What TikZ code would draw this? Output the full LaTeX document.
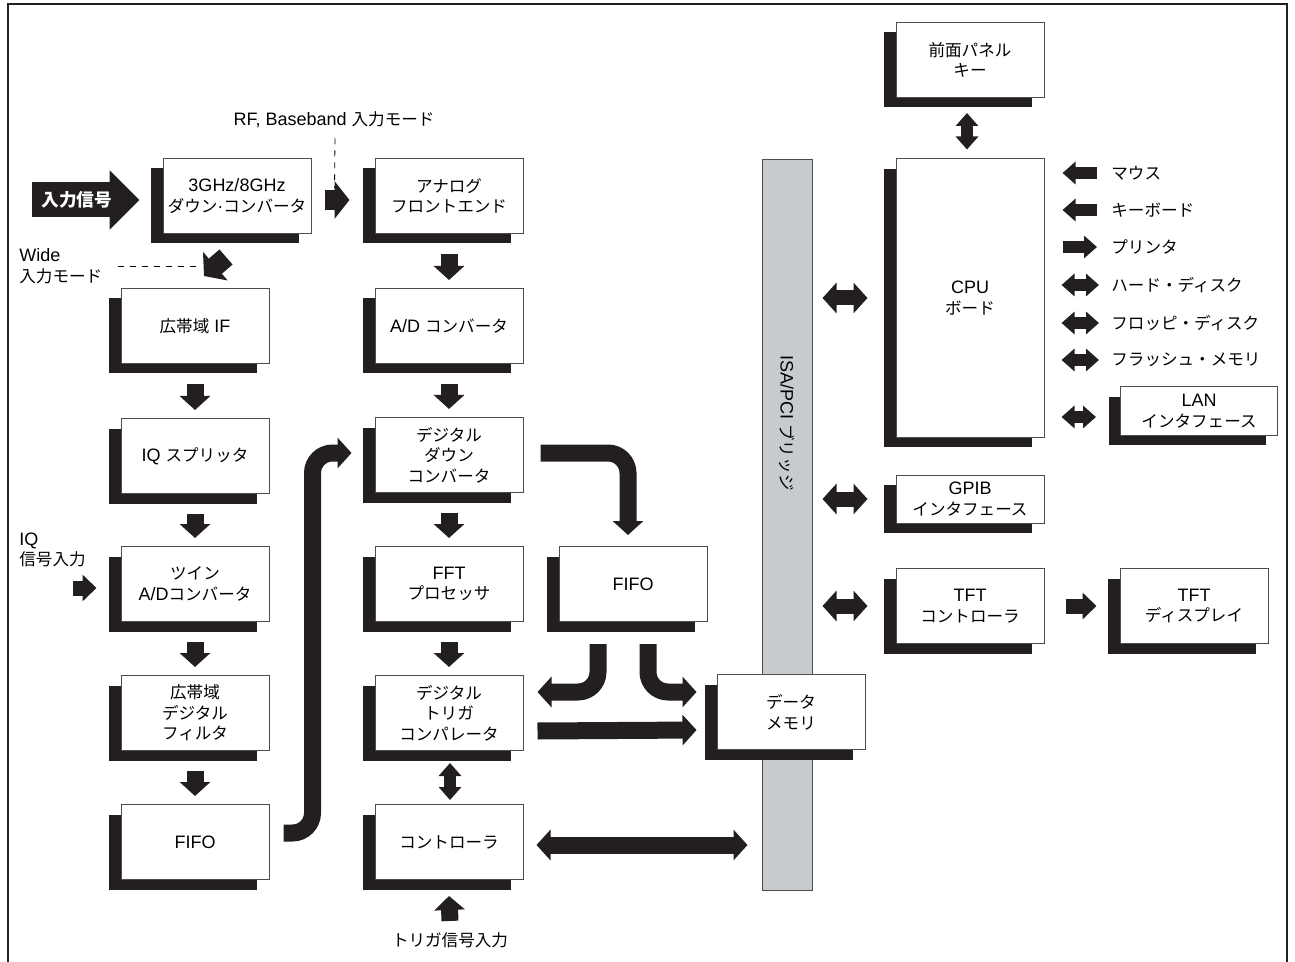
\documentclass[tikz,border=0pt]{standalone}
\usepackage{fontspec}
\setmainfont{Liberation Sans}
\newfontfamily\jp[Scale=0.92]{Noto Sans CJK JP}
\usetikzlibrary{arrows.meta,positioning,calc,shadows,backgrounds}
\definecolor{inkblack}{HTML}{231F20}
\definecolor{edgegray}{HTML}{4D4D4F}
\definecolor{bridgefill}{HTML}{C8CBCE}
\tikzset{
  blockbox/.style={draw=edgegray,line width=0.5pt,fill=white,align=center,inner sep=2pt,minimum width=74pt,minimum height=37.5pt,font=\fontsize{9}{10.3}\selectfont,drop shadow={shadow xshift=-6pt,shadow yshift=-5pt,opacity=1,fill=inkblack}},
  slimbox/.style={blockbox,minimum height=24pt},
  textlabel/.style={font=\fontsize{9}{10.3}\selectfont,inner sep=0pt,align=left},
  flow/.style={draw=inkblack,line width=8.5pt,-{Triangle[width=15pt,length=7pt]}},
  downflow/.style={flow,shorten <=10pt,shorten >=4pt},
  dflow/.style={flow,{Triangle[width=15pt,length=7pt]}-{Triangle[width=15pt,length=7pt]}},
  bflow/.style={draw=inkblack,line width=7.5pt,{Triangle[width=15pt,length=7pt]}-{Triangle[width=15pt,length=7pt]}},
  chunk/.style={draw=inkblack,line width=10pt,-{Triangle[width=18.5pt,length=7.5pt]}},
  stub/.style={draw=inkblack,line width=6pt,-{Triangle[width=11pt,length=6.5pt]}},
  dstub/.style={stub,{Triangle[width=11pt,length=6.5pt]}-{Triangle[width=11pt,length=6.5pt]}},
  midstub/.style={draw=inkblack,line width=7.5pt,-{Triangle[width=13pt,length=7pt]}},
  inflow/.style={draw=inkblack,line width=17.5pt,-{Triangle[width=29pt,length=15pt]}},
  modeline/.style={draw=black,line width=0.4pt,dash pattern=on 3pt off 3pt}
}
\begin{document}
\begin{tikzpicture}[x=0.5pt,y=-0.5pt]
  \useasboundingbox (0,0) rectangle (1295,962);
  \draw[draw=inkblack,line width=1pt] (8,962) -- (8,4) -- (1287,4) -- (1287,962);

  % signal chain
  \node[blockbox] (dnc) at (237,196) {3GHz/8GHz\\{\jp ダウン}·{\jp コンバータ}};
  \node[blockbox] (afe) at (449,196) {\jp アナログ\\\jp フロントエンド};
  \node[blockbox] (wif) at (195,326) {{\jp 広帯域} IF};
  \node[blockbox] (adc) at (449,326) {A/D {\jp コンバータ}};
  \node[blockbox] (iqs) at (195,456) {IQ {\jp スプリッタ}};
  \node[blockbox] (ddc) at (449,455) {\jp デジタル\\\jp ダウン\\\jp コンバータ};
  \node[blockbox] (tad) at (195,584) {{\jp ツイン}\\A/D{\jp コンバータ}};
  \node[blockbox] (fft) at (449,584) {FFT\\{\jp プロセッサ}};
  \node[blockbox] (fifoR) at (633,584) {FIFO};
  \node[blockbox] (wdf) at (195,713) {\jp 広帯域\\\jp デジタル\\\jp フィルタ};
  \node[blockbox] (dtc) at (449,713) {\jp デジタル\\\jp トリガ\\\jp コンパレータ};
  \node[blockbox] (fifoL) at (195,842) {FIFO};
  \node[blockbox] (ctl) at (449,842) {\jp コントローラ};

  % bus and host side
  \node[draw=edgegray,line width=0.5pt,fill=bridgefill,minimum width=25pt,minimum height=365pt,inner sep=0pt] (bridge) at (787,525) {};
  \node[textlabel,rotate=-90] (bridgetxt) at (787,423) {ISA/PCI {\jp ブリッジ}};
  \node[blockbox] (dmem) at (791,712) {\jp データ\\\jp メモリ};
  \node[blockbox] (fpk) at (970,60) {\jp 前面パネル\\\jp キー};
  \node[blockbox,minimum height=139pt] (cpu) at (970,298) {CPU\\{\jp ボード}};
  \node[slimbox,minimum width=78.5pt] (lan) at (1199,411) {LAN\\{\jp インタフェース}};
  \node[slimbox] (gpib) at (970,499) {GPIB\\{\jp インタフェース}};
  \node[blockbox] (tftc) at (970,606) {TFT\\{\jp コントローラ}};
  \node[blockbox] (tftd) at (1194,606) {TFT\\{\jp ディスプレイ}};

  % labels
  \node[textlabel,text=white,font=\fontsize{9.6}{10}\selectfont\jp\bfseries] (insig) at (77,200) {入力信号};
  \node[textlabel] (rflbl) at (334,120) {RF, Baseband {\jp 入力モード}};
  \node[textlabel,anchor=west] (widelbl) at (19,266) {Wide\\{\jp 入力モード}};
  \node[textlabel,anchor=west] (iqlbl) at (19,550) {IQ\\{\jp 信号入力}};
  \node[textlabel,font=\fontsize{9}{10.3}\selectfont\jp] (trig) at (450,940) {トリガ信号入力};
  \node[textlabel,anchor=west,font=\fontsize{9}{10.3}\selectfont\jp] (mouse) at (1111,173) {マウス};
  \node[textlabel,anchor=west,font=\fontsize{9}{10.3}\selectfont\jp] (kbd) at (1111,210) {キーボード};
  \node[textlabel,anchor=west,font=\fontsize{9}{10.3}\selectfont\jp] (prn) at (1111,247) {プリンタ};
  \node[textlabel,anchor=west,font=\fontsize{9}{10.3}\selectfont\jp] (hdd) at (1111,285) {ハード・ディスク};
  \node[textlabel,anchor=west,font=\fontsize{9}{10.3}\selectfont\jp] (fdd) at (1111,323) {フロッピ・ディスク};
  \node[textlabel,anchor=west,font=\fontsize{9}{10.3}\selectfont\jp] (flash) at (1111,360) {フラッシュ・メモリ};
  \coordinate (wideend) at (197,266);

  \begin{scope}[on background layer]
    \draw[inflow] ($(insig.center)+(-45,0)$) -- ($(dnc.west)+(-23,4)$);
  \end{scope}

  % mode inputs
  \draw[modeline] ($(rflbl.south)+(1,10)$) -- ($(dnc.east)+(23,-8)$);
  \draw[chunk] ($(dnc.east)+(13,4)$) -- ($(afe.west)+(-25,4)$);
  \draw[modeline] ($(widelbl.east)+(15,0)$) -- (wideend);
  \draw[chunk] ($(dnc.south)+(-11,23)$) -- ($(wif.north)+(9,-12)$);
  \draw[midstub] ($(iqlbl.west|-tad.west)+(54,4)$) -- ($(tad.west)+(-24,4)$);

  % columns
  \draw[downflow] (afe.south) -- (adc.north);
  \draw[downflow] (adc.south) -- (ddc.north);
  \draw[downflow] (ddc.south) -- (fft.north);
  \draw[downflow] (fft.south) -- (dtc.north);
  \draw[downflow] (wif.south) -- (iqs.north);
  \draw[downflow] (iqs.south) -- (tad.north);
  \draw[downflow] (tad.south) -- (wdf.north);
  \draw[downflow] (wdf.south) -- (fifoL.north);

  % bent paths
  \draw[flow,rounded corners=10pt] ($(fifoL.east)+(14,-9)$) -| ($(ddc.west)+(-62,-2)$) -- ($(ddc.west)+(-23,-2)$);
  \draw[flow,rounded corners=10pt] ($(ddc.east)+(17,-2)$) -| ($(fifoR.north)+(-5,-11)$);
  \draw[flow,rounded corners=10pt] ($(fifoR.south)+(-35,22)$) |- ($(dtc.east)+(14,-21)$);
  \draw[flow,rounded corners=10pt] ($(fifoR.south)+(15,22)$) |- ($(dmem.west)+(-20,-20)$);
  \draw[flow] ($(dtc.east)+(14,18)$) -- ($(dmem.west)+(-20,18)$);
  \draw[dstub] ($(dtc.south)+(1,12)$) -- ($(ctl.north)+(1,-4)$);
  \draw[dflow] ($(ctl.east)+(13,3)$) -- ($(bridge.west|-ctl.east)+(-14,3)$);
  \draw[flow] ($(trig.north)+(0,-11)$) -- ($(ctl.south)+(0,16)$);

  % host side
  \draw[dstub] ($(fpk.south)+(-3,15)$) -- ($(cpu.north)+(-3,-9)$);
  \draw[bflow] ($(bridge.east|-cpu.west)+(10,0)$) -- ($(cpu.west)+(-28,0)$);
  \draw[bflow] ($(bridge.east|-gpib.west)+(10,0)$) -- ($(gpib.west)+(-28,0)$);
  \draw[bflow] ($(bridge.east|-tftc.west)+(10,0)$) -- ($(tftc.west)+(-28,0)$);
  \draw[midstub] ($(tftc.east)+(21,0)$) -- ($(tftd.west)+(-23,0)$);
  \draw[stub] ($(mouse.west)+(-14,0)$) -- ($(cpu.east|-mouse.west)+(18,0)$);
  \draw[stub] ($(kbd.west)+(-14,0)$) -- ($(cpu.east|-kbd.west)+(18,0)$);
  \draw[stub] ($(cpu.east|-prn.west)+(18,0)$) -- ($(prn.west)+(-14,0)$);
  \draw[dstub] ($(cpu.east|-hdd.west)+(17,0)$) -- ($(hdd.west)+(-12,0)$);
  \draw[dstub] ($(cpu.east|-fdd.west)+(17,0)$) -- ($(fdd.west)+(-12,0)$);
  \draw[dstub] ($(cpu.east|-flash.west)+(17,0)$) -- ($(flash.west)+(-12,0)$);
  \draw[dstub] ($(cpu.east|-lan.west)+(17,6)$) -- ($(lan.west)+(-24,6)$);
\end{tikzpicture}
\end{document}
